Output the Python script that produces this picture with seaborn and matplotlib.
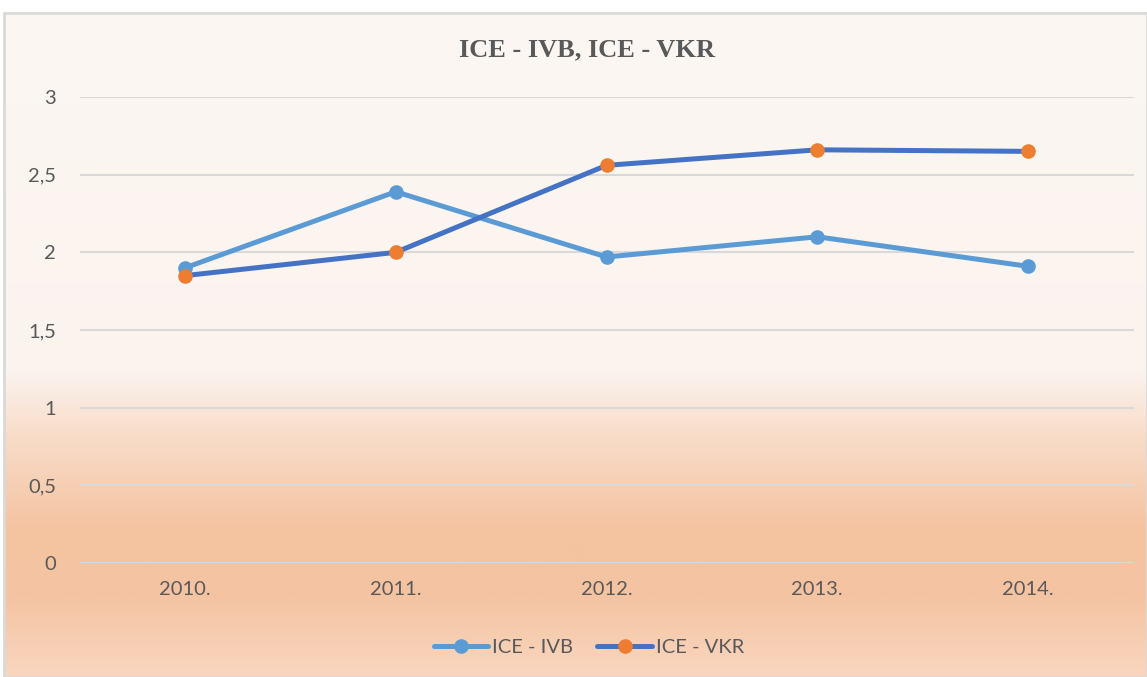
import matplotlib
matplotlib.use('Agg')
import matplotlib.pyplot as plt
from matplotlib.colors import LinearSegmentedColormap
from matplotlib.patches import Rectangle
import numpy as np
import pandas as pd
import seaborn as sns

# Chart data
years = ['2010.', '2011.', '2012.', '2013.', '2014.']
ice_ivb = [1.90, 2.39, 1.97, 2.10, 1.91]
ice_vkr = [1.85, 2.00, 2.56, 2.66, 2.65]
y_ticks = [0, 0.5, 1, 1.5, 2, 2.5, 3]
y_labels = ['0', '0,5', '1', '1,5', '2', '2,5', '3']

df = pd.DataFrame({'year': years * 2,
                   'value': ice_ivb + ice_vkr,
                   'series': ['ICE - IVB'] * 5 + ['ICE - VKR'] * 5})

sns.set_style('white')
plt.rcParams['font.family'] = ['Lato', 'DejaVu Sans']

W, H = 1147, 677
fig = plt.figure(figsize=(W / 100, H / 100), dpi=100)
fig.patch.set_facecolor('white')

# Background: chart area with vertical gradient (pale top, peach bottom)
bg = fig.add_axes([4 / W, 0, 1 - 4 / W, (H - 13) / H], zorder=0)
bg.set_axis_off()
stops = [(0.0, '#FCF7F3'), (0.54, '#FBF3EE'), (0.64, '#F8DCC8'),
         (0.78, '#F4C3A0'), (0.88, '#F4C4A2'), (1.0, '#F9D6BF')]
cmap = LinearSegmentedColormap.from_list('bg', stops)
grad = np.linspace(0, 1, 512).reshape(-1, 1)
bg.imshow(grad, aspect='auto', cmap=cmap, extent=[0, 1, 0, 1], origin='upper')
bg.set_xlim(0, 1)
bg.set_ylim(0, 1)
bg.add_patch(Rectangle((0, 0), 1, 1, fill=False, edgecolor='#D9D9D9',
                       linewidth=2.0, transform=bg.transAxes, clip_on=False))

# Plot area
ax = fig.add_axes([79.5 / W, (H - 563) / H, 1054 / W, 466 / H], zorder=1)
ax.patch.set_alpha(0)

palette = {'ICE - IVB': '#5B9BD5', 'ICE - VKR': '#4472C4'}
sns.lineplot(data=df, x='year', y='value', hue='series', palette=palette,
             linewidth=3.6, sort=False, legend=False, ax=ax, zorder=3)

# Markers
ax.plot(years, ice_ivb, linestyle='none', marker='o', markersize=9.5,
        color='#5B9BD5', zorder=4)
ax.plot(years, ice_vkr, linestyle='none', marker='o', markersize=9.5,
        color='#ED7D31', zorder=5)

ax.set_xlim(-0.5, 4.5)
ax.set_ylim(0, 3)
ax.set_yticks(y_ticks)
ax.set_yticklabels(y_labels)
ax.grid(axis='y', color='#D9D9D9', linewidth=1.5)
ax.grid(axis='x', visible=False)
for s in ax.spines.values():
    s.set_visible(False)
ax.tick_params(axis='both', length=0, labelsize=14.5, labelcolor='#595959')
ax.tick_params(axis='y', pad=17)
ax.tick_params(axis='x', pad=13)
ax.set_xlabel('')
ax.set_ylabel('')

# Title
fig.text(587 / W, 1 - 50 / H, 'ICE - IVB, ICE - VKR', ha='center', va='center',
         fontsize=19, fontweight='bold', color='#595959',
         family=['Liberation Serif', 'DejaVu Serif'])

# Legend
handles = [
    plt.Line2D([], [], color='#5B9BD5', linewidth=3.6, marker='o',
               markersize=9.5, markerfacecolor='#5B9BD5', markeredgecolor='#5B9BD5'),
    plt.Line2D([], [], color='#4472C4', linewidth=3.6, marker='o',
               markersize=9.5, markerfacecolor='#ED7D31', markeredgecolor='#ED7D31'),
]
fig.legend(handles, ['ICE - IVB', 'ICE - VKR'], loc='center',
           bbox_to_anchor=(589 / W, 1 - 647 / H), ncol=2, frameon=False,
           fontsize=14.5, labelcolor='#595959', handlelength=2.7,
           handletextpad=0.2, columnspacing=1.2)

fig.savefig('out.png', dpi=100)
